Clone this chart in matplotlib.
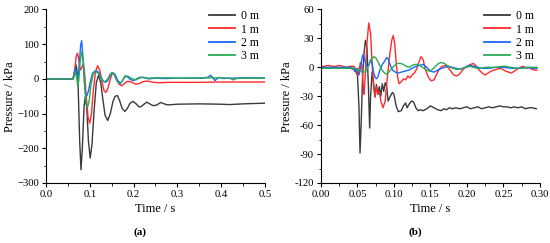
import numpy as np
import matplotlib
matplotlib.use("Agg")
import matplotlib.pyplot as plt
from matplotlib.ticker import MultipleLocator, FuncFormatter

plt.rcParams["font.family"] = ["Liberation Serif", "DejaVu Serif"]

labels = ["0 m", "1 m", "2 m", "3 m"]
colors = ["#3a3a3a", "#ff2a2a", "#1a66ff", "#2aaa55"]

# ---- panel (a): (time s, pressure kPa)
a_0m = [(0, 0), (0.062, 0), (0.066, 25), (0.069, 40), (0.073, 0), (0.077, -180),
        (0.080, -262), (0.083, -200), (0.087, -80), (0.090, -50), (0.093, -80),
        (0.097, -180), (0.101, -228), (0.105, -190), (0.110, -90), (0.115, -10),
        (0.120, 10), (0.125, -10), (0.130, -60), (0.135, -105), (0.141, -120),
        (0.147, -100), (0.153, -65), (0.158, -50), (0.163, -48), (0.168, -62),
        (0.174, -85), (0.180, -94), (0.186, -85), (0.192, -70), (0.199, -65),
        (0.206, -72), (0.212, -80), (0.216, -81), (0.222, -75), (0.230, -67),
        (0.237, -72), (0.244, -77), (0.252, -76), (0.262, -68), (0.270, -72),
        (0.278, -75), (0.30, -73), (0.35, -72), (0.40, -73), (0.42, -74),
        (0.45, -72), (0.50, -70)]
a_1m = [(0, 0), (0.062, 0), (0.066, 30), (0.069, 65), (0.072, 74), (0.075, 55),
        (0.078, 25), (0.081, 30), (0.085, 43), (0.088, 20), (0.092, -50),
        (0.096, -110), (0.100, -128), (0.104, -100), (0.108, -35), (0.113, 20),
        (0.118, 38), (0.123, 25), (0.128, -10), (0.133, -35), (0.137, -39),
        (0.142, -25), (0.147, 0), (0.152, 18), (0.157, 12), (0.162, -5),
        (0.167, -15), (0.173, -20), (0.180, -12), (0.186, -7), (0.195, -9),
        (0.205, -15), (0.212, -14), (0.222, -8), (0.232, -6), (0.245, -10),
        (0.26, -11), (0.28, -10), (0.30, -10), (0.35, -10), (0.40, -9),
        (0.45, -9), (0.50, -9)]
a_2m = [(0, 0), (0.061, 0), (0.064, 10), (0.067, 30), (0.070, 15), (0.073, 5),
        (0.076, 40), (0.079, 95), (0.0815, 110), (0.084, 70), (0.087, 0),
        (0.090, -45), (0.093, -50), (0.097, -35), (0.101, -10), (0.106, 15),
        (0.111, 22), (0.116, 23), (0.121, 18), (0.126, 5), (0.131, -7),
        (0.136, -10), (0.141, -5), (0.146, 8), (0.152, 18), (0.158, 12),
        (0.164, -5), (0.170, -12), (0.175, -5), (0.180, 8), (0.186, 6),
        (0.193, -2), (0.200, -5), (0.207, 0), (0.215, 5), (0.225, 3),
        (0.235, 0), (0.25, 2), (0.27, 1), (0.30, 2), (0.33, 2), (0.36, 2),
        (0.370, 5), (0.376, 10), (0.381, 4), (0.386, -5), (0.392, 2),
        (0.397, 4), (0.405, 1), (0.42, 2), (0.45, 3), (0.50, 3)]
a_3m = [(0, 0), (0.061, 0), (0.064, 5), (0.067, 20), (0.070, 5), (0.0725, -20),
        (0.075, -5), (0.078, 50), (0.082, 78), (0.086, 45), (0.089, -20),
        (0.092, -75), (0.095, -82), (0.099, -60), (0.103, -15), (0.108, 15),
        (0.113, 21), (0.118, 18), (0.123, 8), (0.128, -3), (0.132, -8),
        (0.137, -6), (0.142, 2), (0.146, 12), (0.150, 18), (0.155, 14),
        (0.160, 0), (0.165, -12), (0.170, -14), (0.176, -2), (0.183, 9),
        (0.190, 6), (0.197, 0), (0.205, -3), (0.213, 2), (0.222, 5),
        (0.232, 2), (0.25, 3), (0.28, 3), (0.30, 2), (0.35, 3), (0.40, 3),
        (0.42, 2), (0.428, -3), (0.435, 1), (0.45, 2), (0.50, 2)]

# ---- panel (b)
b_0m = [(0, -1), (0.01, -1), (0.02, 0), (0.03, -1), (0.04, -1), (0.045, -2),
        (0.048, -5), (0.050, -8), (0.052, -40), (0.0535, -89), (0.055, -60),
        (0.057, -10), (0.059, 15), (0.061, 28), (0.063, 20), (0.065, -20),
        (0.0667, -63), (0.068, -30), (0.070, -5), (0.072, -15), (0.074, -31),
        (0.076, -18), (0.078, -28), (0.080, -20), (0.082, -30), (0.084, -17),
        (0.086, -25), (0.088, -16), (0.090, -20), (0.092, -35), (0.095, -30),
        (0.098, -26), (0.100, -28), (0.103, -40), (0.106, -46), (0.110, -45),
        (0.113, -40), (0.116, -37), (0.118, -42), (0.121, -38), (0.124, -35),
        (0.127, -36), (0.130, -42), (0.133, -45), (0.136, -44), (0.140, -45),
        (0.145, -43), (0.150, -40), (0.155, -42), (0.160, -44), (0.165, -45),
        (0.168, -43), (0.172, -44), (0.176, -42), (0.180, -43), (0.185, -42),
        (0.190, -43), (0.195, -42), (0.200, -41), (0.205, -43), (0.210, -42),
        (0.215, -41), (0.220, -43), (0.225, -42), (0.230, -41), (0.235, -42),
        (0.240, -41), (0.245, -40), (0.250, -41), (0.255, -41), (0.260, -42),
        (0.265, -41), (0.270, -42), (0.275, -41), (0.280, -43), (0.285, -42),
        (0.290, -42), (0.295, -43)]
b_1m = [(0, 1), (0.005, 1), (0.01, 2), (0.015, 1), (0.02, 1), (0.025, 2),
        (0.03, 1), (0.035, 0), (0.04, 1), (0.045, 1), (0.048, -2), (0.050, -8),
        (0.052, -3), (0.054, 5), (0.056, 2), (0.058, -20), (0.059, -28),
        (0.061, -5), (0.063, 25), (0.0655, 46), (0.068, 35), (0.070, 5),
        (0.072, -20), (0.074, -30), (0.076, -20), (0.078, -28), (0.080, -25),
        (0.082, -35), (0.085, -42), (0.088, -35), (0.091, -10), (0.094, 12),
        (0.097, 28), (0.099, 33), (0.101, 25), (0.103, 5), (0.105, -10),
        (0.107, -17), (0.110, -15), (0.113, -12), (0.116, -13), (0.119, -9),
        (0.122, -11), (0.125, -8), (0.128, -6), (0.131, -2), (0.134, 5),
        (0.137, 11), (0.140, 8), (0.143, -2), (0.147, -10), (0.151, -14),
        (0.155, -13), (0.158, -8), (0.162, -2), (0.166, 1), (0.170, 2),
        (0.174, 0), (0.178, -4), (0.182, -8), (0.186, -9), (0.190, -7),
        (0.195, -2), (0.200, 1), (0.205, 3), (0.209, 4), (0.213, 1),
        (0.217, -3), (0.221, -6), (0.225, -8), (0.229, -6), (0.233, -4),
        (0.237, -3), (0.241, -2), (0.245, -1), (0.249, -2), (0.253, -4),
        (0.257, -5), (0.261, -6), (0.265, -4), (0.269, -2), (0.273, 0),
        (0.277, 1), (0.281, -1), (0.285, 0), (0.289, -2), (0.293, -3),
        (0.296, -3)]
b_2m = [(0, 0), (0.02, 0), (0.04, 0), (0.044, -1), (0.046, -4), (0.048, -2),
        (0.050, -1), (0.052, -8), (0.054, -2), (0.056, 9), (0.0575, 13),
        (0.059, 11), (0.061, 5), (0.063, 0), (0.066, 3), (0.068, 8),
        (0.070, 5), (0.072, -5), (0.074, -10), (0.076, -12), (0.078, -10),
        (0.081, -2), (0.084, 3), (0.087, 6), (0.090, 10), (0.092, 9),
        (0.095, 2), (0.098, -3), (0.102, -5), (0.106, -6), (0.110, -5),
        (0.115, -4), (0.120, -3), (0.125, -1), (0.130, 1), (0.135, 2),
        (0.140, 3), (0.145, 0), (0.150, -4), (0.155, -5), (0.160, -3),
        (0.165, -1), (0.170, 0), (0.175, 1), (0.180, 0), (0.185, -1),
        (0.190, -2), (0.195, -1), (0.200, 1), (0.205, 2), (0.210, 1),
        (0.215, 0), (0.220, -1), (0.230, -1), (0.240, 0), (0.250, 0),
        (0.260, -1), (0.270, -1), (0.280, 0), (0.290, -1), (0.296, -1)]
b_3m = [(0, -1), (0.02, -1), (0.04, -1), (0.045, -1), (0.050, -2), (0.054, -3),
        (0.057, -5), (0.060, -5), (0.063, -2), (0.066, 3), (0.069, 8),
        (0.0725, 11), (0.075, 10), (0.078, 6), (0.081, 1), (0.084, -3),
        (0.087, -6), (0.090, -7), (0.093, -5), (0.097, -1), (0.101, 2),
        (0.105, 4), (0.109, 4), (0.113, 3), (0.117, 1), (0.121, 0),
        (0.125, 2), (0.129, 3), (0.133, 3), (0.137, 1), (0.141, -1),
        (0.145, -3), (0.149, -4), (0.153, -2), (0.157, 1), (0.161, 4),
        (0.165, 5), (0.169, 4), (0.173, 2), (0.177, 0), (0.181, -1),
        (0.185, -2), (0.189, -2), (0.194, -1), (0.199, 0), (0.204, 1),
        (0.209, 0), (0.214, -1), (0.220, -1), (0.226, 0), (0.232, 0),
        (0.240, 0), (0.248, 1), (0.254, 1), (0.260, 0), (0.268, -1),
        (0.276, -1), (0.284, 0), (0.290, 0), (0.296, 0)]

fig = plt.figure(figsize=(5.5, 2.43), dpi=100)
ax1 = fig.add_axes([0.0836, 0.247, 0.398, 0.714])
ax2 = fig.add_axes([0.5836, 0.247, 0.398, 0.714])


def draw(ax, series):
    for s, c, lab in zip(series, colors, labels):
        d = np.array(s)
        ax.plot(d[:, 0], d[:, 1], color=c, lw=1.0, label=lab)
    for side in ["top", "right"]:
        ax.spines[side].set_visible(False)
    for side in ["left", "bottom"]:
        ax.spines[side].set_linewidth(0.8)
    ax.tick_params(which="major", direction="out", length=3, width=0.8,
                   labelsize=7.7, pad=2)
    ax.tick_params(which="minor", direction="out", length=1.8, width=0.6)
    ax.set_xlabel("Time / s", fontsize=9, labelpad=3)
    ax.set_ylabel("Pressure / kPa", fontsize=9, labelpad=1)
    leg = ax.legend(loc="upper right", fontsize=8.5, frameon=False,
                    handlelength=2.2, handletextpad=0.5, labelspacing=0.12,
                    borderaxespad=0.1, bbox_to_anchor=(1.0, 1.03))
    for h in leg.get_lines():
        h.set_linewidth(1.3)


draw(ax1, [a_0m, a_1m, a_2m, a_3m])
ax1.set_xlim(0, 0.5)
ax1.set_ylim(-300, 200)
ax1.xaxis.set_major_locator(MultipleLocator(0.1))
ax1.xaxis.set_minor_locator(MultipleLocator(0.05))
ax1.yaxis.set_major_locator(MultipleLocator(100))
ax1.yaxis.set_minor_locator(MultipleLocator(50))
ax1.xaxis.set_major_formatter(FuncFormatter(lambda v, p: f"{v:.1f}"))
ax1.yaxis.set_major_formatter(
    FuncFormatter(lambda v, p: f"{v:.0f}".replace("-", "\u2212")))

draw(ax2, [b_0m, b_1m, b_2m, b_3m])
ax2.set_xlim(0, 0.3)
ax2.set_ylim(-120, 60)
ax2.xaxis.set_major_locator(MultipleLocator(0.05))
ax2.xaxis.set_minor_locator(MultipleLocator(0.025))
ax2.yaxis.set_major_locator(MultipleLocator(30))
ax2.yaxis.set_minor_locator(MultipleLocator(15))
ax2.xaxis.set_major_formatter(FuncFormatter(lambda v, p: f"{v:.2f}"))
ax2.yaxis.set_major_formatter(FuncFormatter(lambda v, p: f"{v:.0f}"))

fig.text(0.2545, 0.045, "(a)", ha="center", va="center", fontsize=8,
         fontweight="bold")
fig.text(0.7545, 0.045, "(b)", ha="center", va="center", fontsize=8,
         fontweight="bold")

fig.savefig("out.png", dpi=100)
